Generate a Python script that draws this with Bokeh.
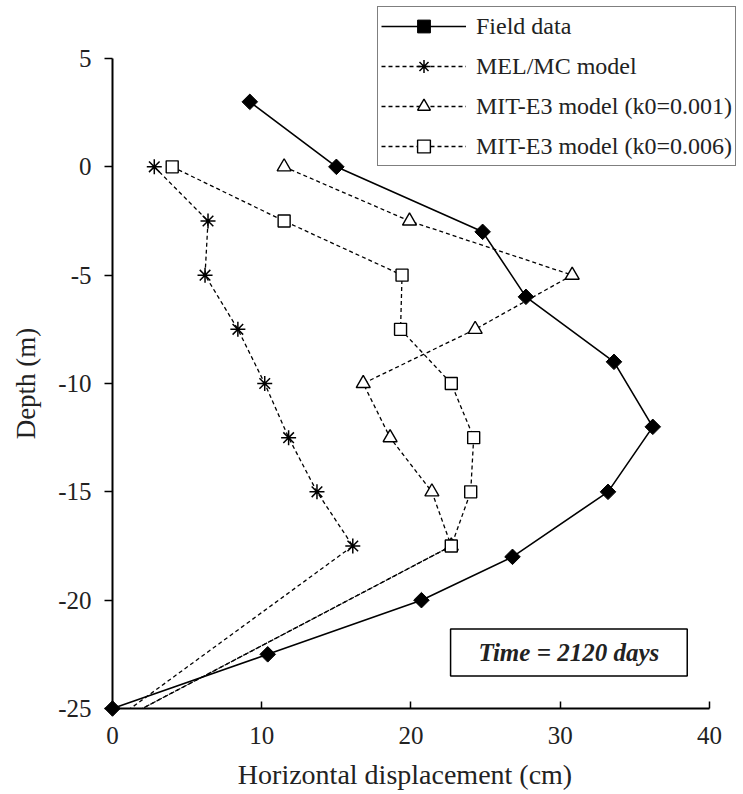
import numpy as np
from bokeh.plotting import figure
from bokeh.models import Range1d, FixedTicker, Legend, LegendItem, Label
from bokeh.embed import file_html
from bokeh.resources import INLINE

# ---- data ----
field_depth = [3, 0, -3, -6, -9, -12, -15, -18, -20, -22.5, -25]
field_disp = [9.2, 15.0, 24.8, 27.7, 33.6, 36.2, 33.2, 26.8, 20.7, 10.4, 0.0]

model_depth = [0, -2.5, -5, -7.5, -10, -12.5, -15, -17.5, -25]
melmc_disp = [2.8, 6.4, 6.2, 8.4, 10.2, 11.8, 13.7, 16.1, 1.2]
mit001_disp = [11.5, 19.9, 30.8, 24.3, 16.8, 18.6, 21.4, 22.7, 2.0]
mit006_disp = [4.0, 11.5, 19.4, 19.3, 22.7, 24.2, 24.0, 22.7, 2.0]

x_ticks = [0, 10, 20, 30, 40]
x_tick_labels = ["0", "10", "20", "30", "40"]
y_ticks = [5, 0, -5, -10, -15, -20, -25]
y_tick_labels = ["5", "0", "-5", "-10", "-15", "-20", "-25"]

series_labels = ["Field data", "MEL/MC model", "MIT-E3 model (k0=0.001)", "MIT-E3 model (k0=0.006)"]
x_title = "Horizontal displacement (cm)"
y_title = "Depth (m)"
note_text = "Time = 2120 days"

FONT = "Liberation Serif"
TXT = "#222222"

# frame covers the whole canvas; axes are drawn at fixed data locations
p = figure(width=743, height=794, output_backend="svg", toolbar_location=None,
           x_range=Range1d(-7.504, 42.278), y_range=Range1d(-28.969, 7.677),
           min_border_left=0, min_border_right=0, min_border_top=0, min_border_bottom=0)
p.outline_line_color = None
p.grid.visible = False
p.background_fill_color = "white"
p.border_fill_color = "white"

# axes
xa = p.xaxis[0]
xa.fixed_location = -25
xa.bounds = (0, 40)
xa.ticker = FixedTicker(ticks=x_ticks)
xa.major_label_overrides = {t: s for t, s in zip(x_ticks, x_tick_labels)}
xa.minor_tick_line_color = None
xa.major_tick_in = 7
xa.major_tick_out = 0
xa.major_label_standoff = 18
ya = p.yaxis[0]
ya.fixed_location = 0
ya.bounds = (-25, 5)
ya.ticker = FixedTicker(ticks=y_ticks)
ya.major_label_overrides = {t: s for t, s in zip(y_ticks, y_tick_labels)}
ya.minor_tick_line_color = None
ya.major_tick_in = 0
ya.major_tick_out = 8
ya.major_label_standoff = 13
for ax in (xa, ya):
    ax.axis_line_width = 2
    ax.axis_line_color = "black"
    ax.major_tick_line_width = 1.5
    ax.major_tick_line_color = "black"
    ax.major_label_text_font = FONT
    ax.major_label_text_font_size = "25px"
    ax.major_label_text_color = TXT

# series
l1 = p.line(field_disp, field_depth, line_color="black", line_width=1.6)
s1 = p.scatter(field_disp, field_depth, marker="square", angle=np.pi / 4, size=11,
               fill_color="black", line_color="black")

dash = "4 3"
l2 = p.line(melmc_disp, model_depth, line_color="black", line_width=1.3, line_dash=dash)
s2 = p.scatter(melmc_disp[:-1], model_depth[:-1], marker="asterisk", size=15,
               line_color="black", line_width=1.5)
l3 = p.line(mit001_disp, model_depth, line_color="black", line_width=1.3, line_dash=dash)
s3 = p.scatter(mit001_disp[:-1], model_depth[:-1], marker="triangle", size=14,
               fill_color="white", line_color="black", line_width=1.4)
l4 = p.line(mit006_disp, model_depth, line_color="black", line_width=1.3, line_dash=dash)
s4 = p.scatter(mit006_disp[:-1], model_depth[:-1], marker="square", size=12,
               fill_color="white", line_color="black", line_width=1.4)

legend = Legend(items=[LegendItem(label=series_labels[0], renderers=[l1, s1]),
                       LegendItem(label=series_labels[1], renderers=[l2, s2]),
                       LegendItem(label=series_labels[2], renderers=[l3, s3]),
                       LegendItem(label=series_labels[3], renderers=[l4, s4])],
                location=(377, 628), margin=0, padding=3, spacing=8,
                glyph_width=85, glyph_height=32, label_standoff=10, label_height=20,
                label_text_font=FONT, label_text_font_size="24px", label_text_color=TXT,
                border_line_color="black", border_line_width=1.5,
                background_fill_color="white", background_fill_alpha=1.0)
p.add_layout(legend)

note = Label(x=30.58, y=-22.41, text=note_text, text_align="center", text_baseline="middle",
             text_font=FONT, text_font_style="bold italic", text_font_size="25px", text_color=TXT,
             border_line_color="black", border_line_width=1.5, background_fill_color="white",
             padding=dict(x=28, y=10))
p.add_layout(note)

xt = Label(x=19.6, y=-28.05, text=x_title, text_align="center", text_baseline="middle",
           text_font=FONT, text_font_size="28px", text_color=TXT)
p.add_layout(xt)
yt = Label(x=-5.8, y=-10, text=y_title, text_align="center", text_baseline="middle",
           angle=np.pi / 2, text_font=FONT, text_font_size="27px", text_color=TXT)
p.add_layout(yt)

open("out.html", "w").write(file_html(p, INLINE))
